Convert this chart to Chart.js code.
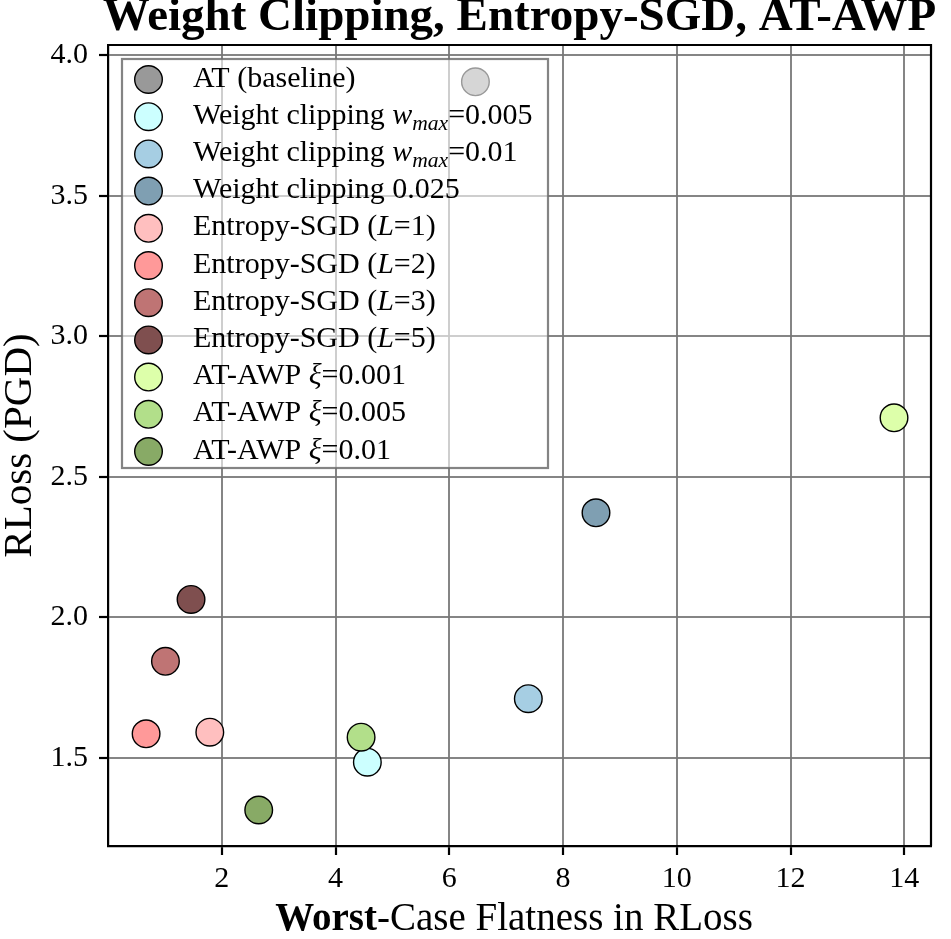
<!DOCTYPE html>
<html>
<head>
    <title>Weight Clipping, Entropy-SGD, AT-AWP</title>
    <style>
        html, body {
            margin: 0;
            padding: 0;
            background-color: white;
        }
        #wrap {
            width: 951px;
            height: 939px;
            position: relative;
        }
    </style>
</head>
<body>
    <div id="wrap"><canvas id="flatChart"></canvas></div>

    <script src="https://cdn.jsdelivr.net/npm/chart.js@4"></script>
    <script>
    // data
    const labels = [
        'AT (baseline)',
        'Weight clipping $w_{max}$=0.005',
        'Weight clipping $w_{max}$=0.01',
        'Weight clipping 0.025',
        'Entropy-SGD ($L$=1)',
        'Entropy-SGD ($L$=2)',
        'Entropy-SGD ($L$=3)',
        'Entropy-SGD ($L$=5)',
        'AT-AWP $ξ$=0.001',
        'AT-AWP $ξ$=0.005',
        'AT-AWP $ξ$=0.01'
    ];
    const flatness = [6.46, 4.56, 7.39, 8.58, 1.79, 0.67, 1.01, 1.46, 13.82, 4.45, 2.65];
    const rloss = [3.905, 1.485, 1.711, 2.372, 1.592, 1.586, 1.844, 2.064, 2.71, 1.574, 1.315];
    const colors = ['#999999', '#ccffff', '#a6cee3', '#7f9fb2', '#ffbfbf', '#ff9999',
                    '#bf7474', '#7f4f4f', '#ddffaa', '#b2df8a', '#88aa66'];
    const xTicks = [2, 4, 6, 8, 10, 12, 14];
    const yTicks = [1.5, 2.0, 2.5, 3.0, 3.5, 4.0];
    const titleText = 'Weight Clipping, Entropy-SGD, AT-AWP';
    const xTitleBold = 'Worst';
    const xTitleRest = '-Case Flatness in RLoss';
    const yTitle = 'RLoss (PGD)';

    const SERIF = '"Liberation Serif", "DejaVu Serif", serif';

    // "$w_{max}$" -> italic w + italic subscript max
    function parseRich(label) {
        const segs = [];
        label.split('$').forEach((part, i) => {
            if (!part) return;
            if (i % 2 === 0) { segs.push({ t: part, s: 'n' }); return; }
            const m = part.split('_');
            segs.push({ t: m[0], s: 'i' });
            if (m[1]) segs.push({ t: m[1].replace(/[{}]/g, ''), s: 'sub' });
        });
        return segs;
    }

    function drawRich(ctx, segs, x, y, size) {
        segs.forEach(sg => {
            let f = size, dy = 0, style = '';
            if (sg.s === 'i') style = 'italic ';
            if (sg.s === 'sub') { style = 'italic '; f = size * 0.72; dy = size * 0.2; }
            ctx.font = style + f + 'px ' + SERIF;
            ctx.fillText(sg.t, x, y + dy);
            x += ctx.measureText(sg.t).width;
        });
    }

    const decorPlugin = {
        id: 'decor',
        afterDatasetsDraw(chart) {
            // legend box inside the axes, semi transparent like matplotlib
            const ctx = chart.ctx;
            const ca = chart.chartArea;
            const left = ca.left + 14, top = ca.top + 14;
            const w = 426, h = 409, step = 37.2;
            ctx.save();
            ctx.fillStyle = 'rgba(255,255,255,0.6)';
            ctx.fillRect(left, top, w, h);
            ctx.strokeStyle = 'rgba(110,110,110,0.85)';
            ctx.lineWidth = 2.2;
            ctx.strokeRect(left, top, w, h);
            labels.forEach((lab, i) => {
                const cy = top + 20.5 + i * step;
                ctx.beginPath();
                ctx.arc(left + 26.5, cy, 13.8, 0, Math.PI * 2);
                ctx.fillStyle = colors[i];
                ctx.fill();
                ctx.lineWidth = 1.4;
                ctx.strokeStyle = '#000';
                ctx.stroke();
                ctx.fillStyle = '#000';
                ctx.textAlign = 'left';
                ctx.textBaseline = 'alphabetic';
                drawRich(ctx, parseRich(lab), left + 71, cy + 7, 30);
            });
            ctx.restore();
        },
        afterDraw(chart) {
            const ctx = chart.ctx;
            const ca = chart.chartArea;
            ctx.save();
            // top and right frame
            ctx.strokeStyle = '#000';
            ctx.lineWidth = 2.2;
            ctx.beginPath();
            ctx.moveTo(ca.left, ca.top);
            ctx.lineTo(ca.right, ca.top);
            ctx.lineTo(ca.right, ca.bottom);
            ctx.stroke();
            // title
            ctx.fillStyle = '#000';
            ctx.textAlign = 'center';
            ctx.textBaseline = 'alphabetic';
            ctx.font = 'bold 47px ' + SERIF;
            ctx.fillText(titleText, (ca.left + ca.right) / 2, 30);
            // x axis title, first word bold
            ctx.textAlign = 'left';
            ctx.font = 'bold 39px ' + SERIF;
            const wb = ctx.measureText(xTitleBold).width;
            ctx.font = '39px ' + SERIF;
            const wr = ctx.measureText(xTitleRest).width;
            const x0 = 514 - (wb + wr) / 2;
            ctx.font = 'bold 39px ' + SERIF;
            ctx.fillText(xTitleBold, x0, 930);
            ctx.font = '39px ' + SERIF;
            ctx.fillText(xTitleRest, x0 + wb, 930);
            ctx.restore();
        }
    };

    const gridOpts = { color: 'rgba(120,120,120,0.9)', lineWidth: 2, tickLength: 9, tickColor: '#000', tickWidth: 2.2 };

    const ctx = document.getElementById('flatChart').getContext('2d');
    new Chart(ctx, {
        type: 'scatter',
        data: {
            datasets: [{
                label: 'runs',
                data: flatness.map((v, i) => ({ x: v, y: rloss[i] })),
                pointBackgroundColor: colors,
                pointBorderColor: '#000',
                pointBorderWidth: 1.4,
                pointRadius: 13.8,
                pointHoverRadius: 13.8
            }]
        },
        options: {
            responsive: true,
            maintainAspectRatio: false,
            animation: false,
            layout: { padding: { top: 45, right: 20, left: 0, bottom: 0 } },
            plugins: {
                legend: { display: false },
                tooltip: { enabled: false }
            },
            scales: {
                x: {
                    type: 'linear',
                    min: 0.0,
                    max: 14.47,
                    afterBuildTicks: s => { s.ticks = xTicks.map(v => ({ value: v })); },
                    afterFit: s => { s.height = 93; },
                    grid: gridOpts,
                    border: { color: '#000', width: 2.2 },
                    ticks: { color: '#000', font: { family: SERIF, size: 30 }, padding: 6, callback: v => String(v) }
                },
                y: {
                    type: 'linear',
                    min: 1.187,
                    max: 4.036,
                    afterBuildTicks: s => { s.ticks = yTicks.map(v => ({ value: v })); },
                    afterFit: s => { s.width = 108; },
                    grid: gridOpts,
                    border: { color: '#000', width: 2.2 },
                    ticks: { color: '#000', font: { family: SERIF, size: 30 }, padding: 11, callback: v => v.toFixed(1) },
                    title: { display: true, text: yTitle, color: '#000', font: { family: SERIF, size: 41, lineHeight: 1.0 }, padding: { top: 0, bottom: 0 } }
                }
            }
        },
        plugins: [decorPlugin]
    });
    </script>
</body>
</html>
